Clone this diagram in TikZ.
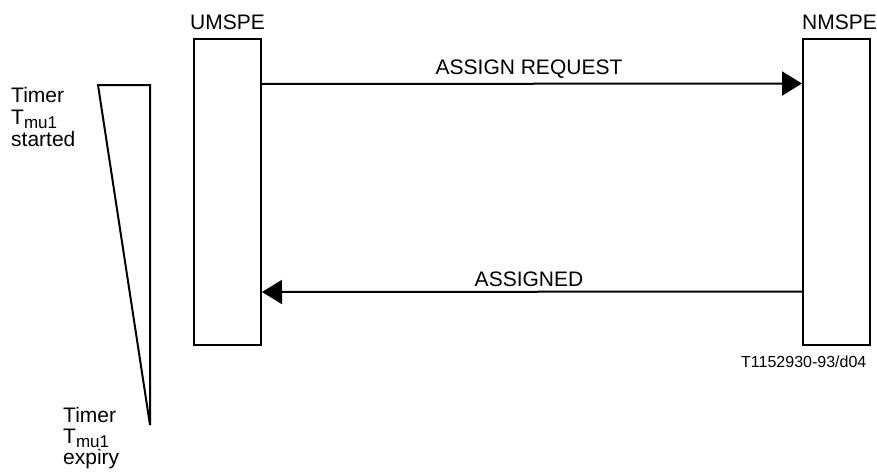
\documentclass[tikz,border=0pt]{standalone}
\usepackage{fontspec}
\setmainfont{Liberation Sans}
\usetikzlibrary{arrows.meta}
\begin{document}
\begin{tikzpicture}[x=1pt,y=-1pt,
  box/.style={draw,line width=2pt,inner sep=0pt,minimum width=67pt,minimum height=306pt},
  lbl/.style={inner sep=0pt,font=\fontsize{21}{25}\selectfont},
  small/.style={inner sep=0pt,font=\fontsize{16}{19}\selectfont},
  msg/.style={line width=2pt,-{Triangle[length=20pt,width=24pt]}}]
\useasboundingbox (0,0) rectangle (877,471);
\newcommand{\subs}[1]{\raisebox{-4pt}{\fontsize{17}{17}\selectfont #1}}
% entity boxes
\node[box] (umspe) at (227.5,192) {};
\node[box] (nmspe) at (836.5,191.5) {};
\node[lbl,anchor=base west] (umspel) at (190,29) {UMSPE};
\node[lbl,anchor=base west] (nmspel) at (802,29) {NMSPE};
% messages
\draw[msg] ([yshift=-46pt]umspe.north east) -- ([yshift=-46pt]nmspe.north west);
\draw[msg] ([yshift=-254pt]nmspe.north west) -- ([yshift=-254pt]umspe.north east);
\node[lbl,anchor=base] (req) at (529,74) {ASSIGN REQUEST};
\node[lbl,anchor=base] (asg) at (529,286) {ASSIGNED};
% timer
\draw[line width=2pt] (98,85) -- (150,85) -- (150,425) -- cycle;
\node[lbl,anchor=base west] (ts1) at (11,102) {Timer};
\node[lbl,anchor=base west] (ts2) at (11,124) {T\subs{mu1}};
\node[lbl,anchor=base west] (ts3) at (11,146) {started};
\node[lbl,anchor=base west] (te1) at (63,422) {Timer};
\node[lbl,anchor=base west] (te2) at (63,443) {T\subs{mu1}};
\node[lbl,anchor=base west] (te3) at (63,464) {expiry};
% figure id
\node[small,anchor=base west] (fid) at (741,367) {T1152930-93/d04};
\end{tikzpicture}
\end{document}
